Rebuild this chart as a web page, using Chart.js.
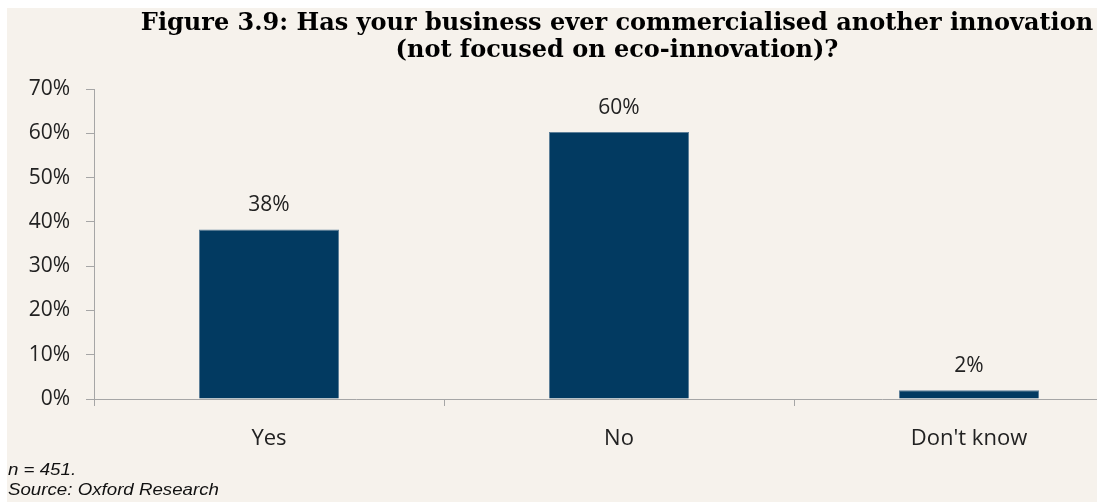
<!DOCTYPE html>
<html>
<head>
<meta charset="utf-8">
<script src="https://cdn.jsdelivr.net/npm/chart.js@4"></script>
<style>
  html, body { margin: 0; padding: 0; background: #f6f2ec; overflow: hidden; }
  .strip { position: absolute; background: #ffffff; z-index: 2; }
  #frame {
    position: absolute; left: 7px; top: 8px; width: 1110px; height: 500px;
    background: #f6f2ec; overflow: hidden;
  }
  #chart { position: absolute; left: 0; top: 0; }
  .note {
    position: absolute; left: 1px; font-family: 'Liberation Sans', Arial, sans-serif;
    font-style: italic; font-size: 17px; color: #111; white-space: nowrap; line-height: 20px;
    transform: scaleX(1.1); transform-origin: left center;
  }
</style>
</head>
<body>
<div class="strip" style="left:0; top:0; width:1120px; height:8px;"></div>
<div class="strip" style="left:0; top:0; width:7px; height:520px;"></div>
<div id="frame">
  <canvas id="chart" width="1220" height="494"></canvas>
  <div class="note" style="top: 452px;">n = 451.</div>
  <div class="note" style="top: 472px;">Source: Oxford Research</div>
</div>
<script>
const categories = ['Yes', 'No', "Don't know"];
const shares = [38.3, 60.3, 2];
const yTicks = [0, 10, 20, 30, 40, 50, 60, 70];
const titleLines = [
  'Figure 3.9: Has your business ever commercialised another innovation',
  '(not focused on eco-innovation)?',
];

const axisColor = '#a6a6a6';
const barColor = '#023a61';
const labelFont = "'Open Sans', 'Noto Sans', sans-serif";

// the title sits centred on the original (wider) figure, not on the plot box
const figureTitle = {
  id: 'figureTitle',
  afterDraw: (chart) => {
    const { ctx } = chart;
    ctx.save();
    ctx.font = "bold 24px 'DejaVu Serif', serif";
    ctx.fillStyle = '#000000';
    ctx.textAlign = 'center';
    ctx.textBaseline = 'alphabetic';
    titleLines.forEach((line, i) => {
      ctx.fillText(line, 610, 22 + i * 27);
    });
    ctx.restore();
  },
};

const valueLabels = {
  id: 'valueLabels',
  afterDatasetsDraw: (chart) => {
    const { ctx } = chart;
    const meta = chart.getDatasetMeta(0);
    ctx.save();
    ctx.font = `21px ${labelFont}`;
    ctx.fillStyle = '#222222';
    ctx.textAlign = 'center';
    ctx.textBaseline = 'alphabetic';
    meta.data.forEach((bar, i) => {
      ctx.fillText(`${Math.round(shares[i])}%`, bar.x, bar.y - 18);
    });
    ctx.restore();
  },
};

new Chart(document.getElementById('chart').getContext('2d'), {
  type: 'bar',
  data: {
    labels: categories,
    datasets: [
      {
        data: shares,
        backgroundColor: barColor,
        borderColor: '#5d7f98',
        borderWidth: 1,
        categoryPercentage: 1,
        barPercentage: 0.4,
      },
    ],
  },
  options: {
    responsive: false,
    animation: false,
    layout: { padding: { left: 0, right: 83, top: 81, bottom: 0 } },
    plugins: {
      legend: { display: false },
      tooltip: { enabled: false },
      title: { display: false },
    },
    scales: {
      x: {
        afterFit: (scale) => { scale.height = 103; },
        grid: {
          offset: true,
          drawOnChartArea: false,
          drawTicks: true,
          tickLength: 7,
          color: axisColor,
        },
        border: { color: axisColor, width: 1 },
        ticks: {
          color: '#222222',
          padding: 20,
          font: { family: labelFont, size: 22 },
        },
      },
      y: {
        min: 0,
        max: 70,
        afterFit: (scale) => { scale.width = 87; },
        afterBuildTicks: (scale) => {
          scale.ticks = yTicks.map((value) => ({ value }));
        },
        grid: {
          drawOnChartArea: false,
          drawTicks: true,
          tickLength: 8,
          color: axisColor,
        },
        border: { color: axisColor, width: 1 },
        ticks: {
          color: '#222222',
          padding: 16,
          font: { family: labelFont, size: 21 },
          callback: (value) => `${value}%`,
        },
      },
    },
  },
  plugins: [valueLabels, figureTitle],
});
</script>
</body>
</html>
